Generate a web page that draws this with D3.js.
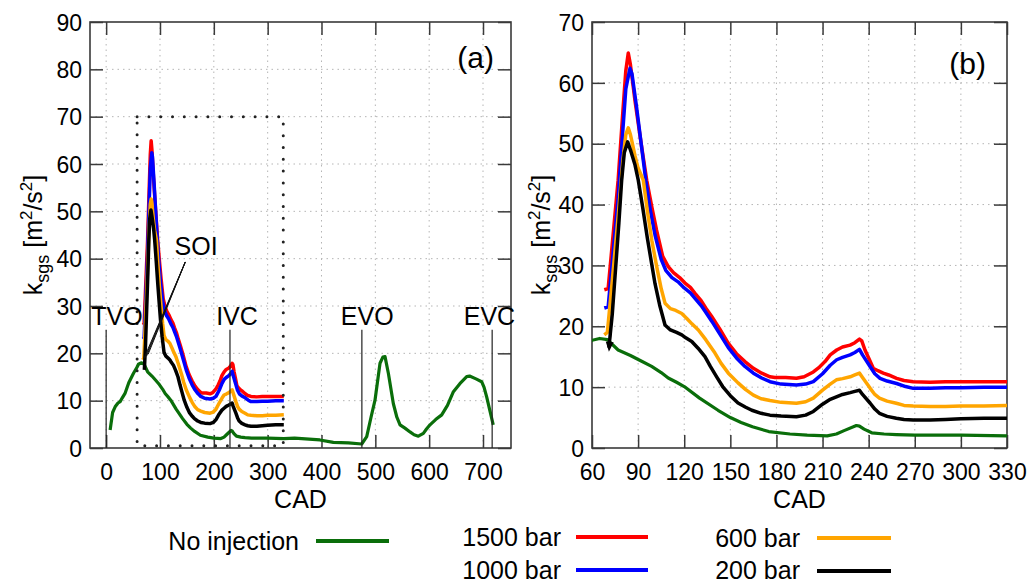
<!DOCTYPE html>
<html><head><meta charset="utf-8">
<script src="https://cdn.jsdelivr.net/npm/d3@7"></script>
<style>
body{margin:0;background:#fff}
svg{display:block}
text{font-family:"Liberation Sans",Arial,Helvetica,sans-serif;fill:#000}
</style>
</head><body>
<svg id="chart" width="1032" height="586"></svg>
<script>
// ---------------- DATA ----------------
const seriesNames = ["No injection", "1500 bar", "1000 bar", "600 bar", "200 bar"];
const seriesColors = ["#0a6e0a", "#ff0000", "#0000ff", "#ffa500", "#000000"];

// [CAD, k_sgs]
const noInjection = [[7.4,3.8],[12,7.5],[16.7,8.7],[22,9.5],[26,9.8],[30,10.6],[35.3,11.6],[42,13.8],[50.8,15.8],[57,17.0],[60,17.7],[65,18.0],[70,17.8],[77,16.1],[85,15.2],[92,14.3],[98.8,13.4],[105,12.4],[109.6,11.5],[115,10.8],[120,10.1],[130,8.2],[142,6.2],[150,5.0],[157,4.2],[164.4,3.5],[175,2.7],[188.8,2.3],[200,2.1],[213,2.0],[219,2.3],[224,2.85],[232,3.7],[234,3.6],[237,3.1],[242,2.5],[250,2.3],[258,2.2],[270,2.1],[300,2.1],[330,2.0],[350,2.1],[397,1.7],[422,1.2],[450,1.1],[474.7,0.85],[484,2.4],[492,6.5],[499.4,10.1],[508.7,17.9],[514,19.2],[518,19.3],[524.2,15.8],[533.4,9.4],[540,6.5],[545.9,4.9],[555,4.2],[564.4,3.4],[572,2.8],[579.9,2.5],[589.2,3.1],[595,4.0],[601.6,4.9],[612,6.0],[623.3,7.0],[634,9.0],[645,11.9],[657,13.6],[669.7,15.1],[675,15.2],[687,14.6],[697.5,14.0],[702,12.8],[706.8,10.8],[713,7.8],[719,4.9]];

const bar1500 = [[68,26],[70.5,26.2],[73,33],[77,44],[80,55],[82,62],[83.6,64.9],[85,63],[88,57],[92,50],[95.6,44],[99,39.5],[102,35.8],[106,31.5],[109.6,29.8],[113,28.8],[117,28],[120.5,27.1],[124,26.4],[127,25.4],[131,24.2],[134,23],[137.9,21.6],[143,19.6],[148.7,17.2],[154,15.5],[159.5,14.2],[165,13.1],[170.4,12.3],[175.8,11.7],[179,11.6],[186,11.6],[193,11.45],[198,11.7],[204,12.5],[208,13.3],[211.6,14.2],[215,15.3],[219.2,16.1],[223,16.6],[227.9,16.9],[231,17.3],[234,17.9],[235.5,17.6],[237.6,16.1],[240,14.8],[243,13.1],[246,12.7],[249.5,12.3],[253,12.0],[258.2,11.45],[263,11.1],[269,10.9],[280,10.8],[290,10.9],[300,10.9],[315,10.9],[330,10.9]];

const bar1000 = [[68,23],[70.5,23.2],[73,30],[77,41],[80,52],[82,59],[84.7,62.4],[86,61.5],[89,56],[92,50],[95,44],[98,39],[101,35],[105,31],[108,29.2],[112,28],[116,27.3],[120,26.3],[124,25.5],[127,24.6],[131,23.4],[134,22.3],[138,20.8],[143,18.8],[148.7,16.5],[154,14.8],[159.5,13.4],[165,12.3],[170.4,11.5],[175.8,10.9],[183,10.5],[193,10.35],[199,10.5],[204,10.9],[210,12.2],[215,13.6],[219.2,14.5],[223,14.9],[227.9,15.3],[231,15.7],[234,16.2],[236,15.3],[240.9,13.4],[244,12.2],[247.4,11.45],[252,11.0],[258.2,10.6],[264,10.1],[269,9.8],[280,9.8],[290,9.9],[300,9.9],[315,10.0],[330,10.0]];

const bar600 = [[68,18.6],[70,19],[73,27],[77,38],[80,47],[82,51.5],[83.6,52.6],[85,51.5],[88,48],[90,46],[93.4,44],[96,39],[99,34],[102.1,29.8],[105,26.2],[107.5,23.8],[111,22.9],[114.5,22.6],[118.4,22.1],[122,21.2],[125,20.4],[129.2,19.4],[134,17.8],[140,15.6],[144,13.9],[148.7,12.3],[155,10.7],[160,9.6],[165,8.7],[170,8.1],[175.8,7.8],[183,7.5],[193,7.35],[199,7.6],[204,8.2],[210,9.5],[215,10.5],[219,11.2],[223,11.4],[228,11.7],[231,12.0],[234,12.3],[236,11.6],[241,9.8],[244,8.8],[247,8.2],[252,7.7],[258,7.35],[263,7.0],[269,6.9],[280,6.8],[290,6.8],[300,6.9],[315,6.9],[330,7.0]];

const bar200 = [[71,16.5],[73.2,22],[75.5,30],[77.5,37],[79.3,44],[81,48.5],[83.2,50.3],[85,49],[88,46.5],[90.1,44],[93,39.5],[96,34.5],[98.8,30.3],[101,27],[104,23.5],[107.5,20.2],[111,19.4],[115,19.0],[118.4,18.6],[121,18.1],[124.9,17.5],[129,16.4],[133.5,15],[137,13.4],[141.1,11.7],[145,10.1],[150,8.6],[155,7.4],[160,6.7],[164,6.2],[170,5.7],[175.8,5.4],[183,5.25],[193,5.15],[199,5.4],[204,6.0],[210,7.2],[215,8.0],[219,8.4],[223,8.8],[228,9.1],[231,9.3],[234,9.5],[236,8.8],[241,7.35],[244,6.4],[247,5.7],[252,5.2],[258,4.9],[263,4.7],[269,4.6],[280,4.6],[290,4.7],[300,4.8],[315,4.9],[330,4.9]];

const xTicksA = [0,100,200,300,400,500,600,700];
const yTicksA = [0,10,20,30,40,50,60,70,80,90];
const xTicksB = [60,90,120,150,180,210,240,270,300,330];
const yTicksB = [0,10,20,30,40,50,60,70];

const eventNames = ["TVO","IVC","EVO","EVC"];
const eventCad = [0,230,475,717];
const eventLabelCad = [20,243,485,712];
const eventTop = 25;

const soiText = "SOI";
const soiAnchor = [147,39.3];
const soiLabelPos = [167,40.8];
const soiTargets = [[69,18.6],[72,19],[75,19.4],[78,19.8]];

const zoomBox = {x0:57.5, x1:329, y0:0.5, y1:70};
const arrowB = [[74,25],[71,15.8]];

// ---------------- DRAWING ----------------
const svg = d3.select("#chart");
const line = (x,y) => d3.line().x(d=>x(d[0])).y(d=>y(d[1]));
const frameColor = "#3a3a3a";

function panel(cfg){
  const {id,x,y,xTicks,yTicks,label} = cfg;
  const g = svg.append("g");
  const [l,r] = x.range(), [b,t] = y.range();
  g.append("clipPath").attr("id","clip"+id).append("rect")
    .attr("x",l).attr("y",t).attr("width",r-l).attr("height",b-t);
  // grid
  const grid = g.append("g").attr("stroke","#b5b5b5").attr("stroke-width",1).attr("stroke-dasharray","1.5,4");
  xTicks.forEach(v=>{ if(x(v)>l+1 && x(v)<r-1) grid.append("line").attr("x1",x(v)).attr("x2",x(v)).attr("y1",t).attr("y2",b); });
  yTicks.forEach(v=>{ if(y(v)<b-1 && y(v)>t+1) grid.append("line").attr("x1",l).attr("x2",r).attr("y1",y(v)).attr("y2",y(v)); });
  // axes via d3 (inward ticks)
  const tl = 13;
  const ax = (gen, tr) => {
    const a = g.append("g").attr("transform",tr).call(gen);
    a.select(".domain").remove();
    a.selectAll(".tick line").attr("stroke",frameColor).attr("stroke-width",1.5);
    return a;
  };
  const bx = ax(d3.axisBottom(x).tickValues(xTicks).tickSize(-tl).tickPadding(tl).tickFormat(d3.format("d")), `translate(0,${b})`);
  bx.selectAll("text").attr("font-size",23).attr("font-family","Liberation Sans, Arial, sans-serif").attr("y",null).attr("dy",null).attr("transform","translate(0,32)");
  ax(d3.axisTop(x).tickValues(xTicks).tickSize(-tl).tickFormat(""), `translate(0,${t})`);
  const ly = ax(d3.axisLeft(y).tickValues(yTicks).tickSize(-tl).tickFormat(d3.format("d")), `translate(${l},0)`);
  ly.selectAll("text").attr("font-size",23).attr("font-family","Liberation Sans, Arial, sans-serif").attr("x",-8).attr("dy","0.36em");
  ax(d3.axisRight(y).tickValues(yTicks).tickSize(-tl).tickFormat(""), `translate(${r},0)`);
  // frame
  g.append("rect").attr("x",l).attr("y",t).attr("width",r-l).attr("height",b-t)
    .attr("fill","none").attr("stroke",frameColor).attr("stroke-width",1.6);
  // axis labels
  g.append("text").attr("x",(l+r)/2).attr("y",508).attr("text-anchor","middle").attr("font-size",25).text("CAD");
  const yl = g.append("text").attr("transform",`translate(${cfg.ylabX},${(t+b)/2}) rotate(-90)`)
    .attr("text-anchor","middle").attr("font-size",25);
  yl.append("tspan").text("k");
  yl.append("tspan").attr("dy",7).attr("font-size",18).text("sgs");
  yl.append("tspan").attr("dy",-7).text(" [m");
  yl.append("tspan").attr("dy",-10).attr("font-size",17).text("2");
  yl.append("tspan").attr("dy",10).text("/s");
  yl.append("tspan").attr("dy",-10).attr("font-size",17).text("2");
  yl.append("tspan").attr("dy",10).text("]");
  // panel tag
  g.append("text").attr("x",cfg.tagX).attr("y",cfg.tagY).attr("text-anchor","end").attr("font-size",30).text(label);
  const plot = g.append("g").attr("clip-path",`url(#clip${id})`);
  return {g, plot};
}

const xA = d3.scaleLinear().domain([-30,752]).range([90,511]);
const yA = d3.scaleLinear().domain([0,90]).range([448,22]);
const xB = d3.scaleLinear().domain([60,330]).range([592,1007]);
const yB = d3.scaleLinear().domain([0,70]).range([448,22]);

const A = panel({id:"A",x:xA,y:yA,xTicks:xTicksA,yTicks:yTicksA,label:"(a)",ylabX:42,tagX:494,tagY:68});
const B = panel({id:"B",x:xB,y:yB,xTicks:xTicksB,yTicks:yTicksB,label:"(b)",ylabX:550,tagX:986,tagY:74});

const allSeries = [noInjection, bar1500, bar1000, bar600, bar200];
const widths = [3.2, 3.5, 3.5, 3.5, 3.5];

function drawSeries(P, x, y){
  allSeries.forEach((s,i)=>{
    P.plot.append("path").datum(s).attr("d",line(x,y)).attr("fill","none")
      .attr("stroke",seriesColors[i]).attr("stroke-width",widths[i])
      .attr("stroke-linejoin","round").attr("stroke-linecap","butt");
  });
}

// Panel (a) extras
eventNames.forEach((n,i)=>{
  A.g.append("line").attr("x1",xA(eventCad[i])).attr("x2",xA(eventCad[i]))
    .attr("y1",yA(0)).attr("y2",yA(eventTop)).attr("stroke","#222").attr("stroke-width",1.2);
});
drawSeries(A, xA, yA);
A.g.append("rect").attr("x",xA(zoomBox.x0)).attr("y",yA(zoomBox.y1))
  .attr("width",xA(zoomBox.x1)-xA(zoomBox.x0)).attr("height",yA(zoomBox.y0)-yA(zoomBox.y1))
  .attr("fill","none").attr("stroke","#222").attr("stroke-width",3)
  .attr("stroke-linecap","round").attr("stroke-dasharray","0,11.8");
soiTargets.forEach(p=>{
  A.g.append("line").attr("x1",xA(soiAnchor[0])).attr("y1",yA(soiAnchor[1]))
    .attr("x2",xA(p[0])).attr("y2",yA(p[1])).attr("stroke","#111").attr("stroke-width",1);
});
A.g.append("text").attr("x",xA(soiLabelPos[0])).attr("y",yA(soiLabelPos[1])).attr("text-anchor","middle").attr("font-size",25).text(soiText);
eventNames.forEach((n,i)=>{
  A.g.append("text").attr("x",xA(eventLabelCad[i])).attr("y",yA(26)).attr("text-anchor","middle").attr("font-size",25).text(n);
});

// Panel (b)
drawSeries(B, xB, yB);
{
  const [p0,p1] = arrowB;
  const x0=xB(p0[0]), y0=yB(p0[1]), x1=xB(p1[0]), y1=yB(p1[1]);
  const ang = Math.atan2(y1-y0, x1-x0);
  const L=10, Wd=4;
  const bx = x1 - L*Math.cos(ang), by = y1 - L*Math.sin(ang);
  B.g.append("line").attr("x1",x0).attr("y1",y0).attr("x2",bx).attr("y2",by).attr("stroke","#000").attr("stroke-width",2);
  B.g.append("path").attr("d",`M${x1},${y1}L${bx - Wd*Math.sin(ang)},${by + Wd*Math.cos(ang)}L${bx + Wd*Math.sin(ang)},${by - Wd*Math.cos(ang)}Z`).attr("fill","#000");
}

// Legend
const legendLayout = [
  {tx:299, ty:550, lx1:316, lx2:389, ly:541},
  {tx:561, ty:546, lx1:576, lx2:648, ly:537},
  {tx:561, ty:579, lx1:576, lx2:648, ly:570},
  {tx:800, ty:547, lx1:817, lx2:891, ly:538},
  {tx:800, ty:579, lx1:817, lx2:891, ly:571}
];
const lg = svg.append("g");
seriesNames.forEach((n,i)=>{
  const L = legendLayout[i];
  lg.append("text").attr("x",L.tx).attr("y",L.ty).attr("text-anchor","end").attr("font-size",25).text(n);
  lg.append("line").attr("x1",L.lx1).attr("x2",L.lx2).attr("y1",L.ly).attr("y2",L.ly)
    .attr("stroke",seriesColors[i]).attr("stroke-width",4);
});
</script>
</body></html>
